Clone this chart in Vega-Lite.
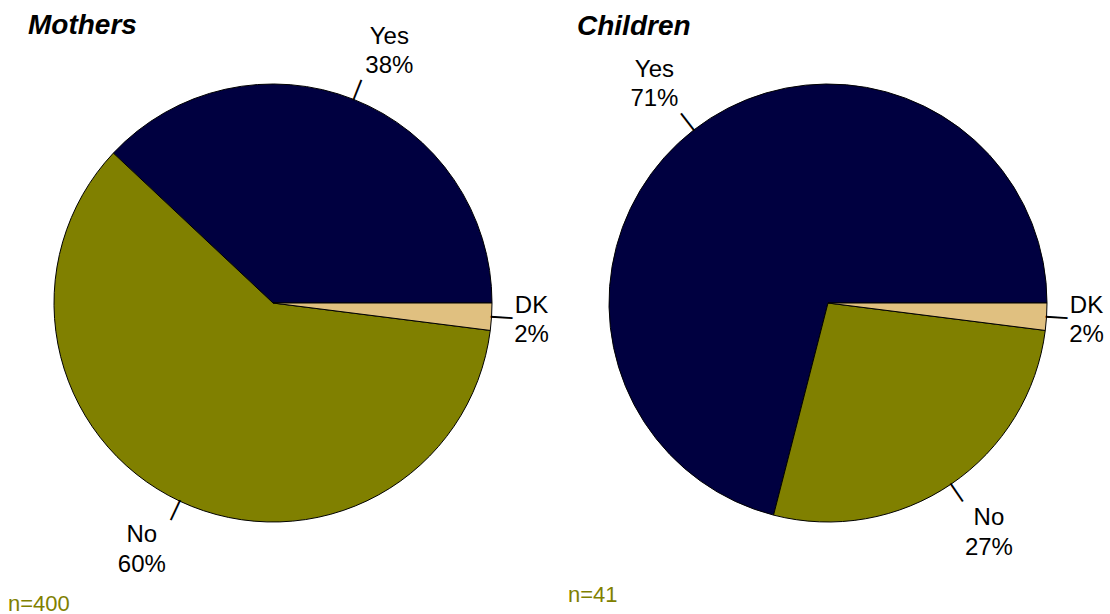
{
  "$schema": "https://vega.github.io/schema/vega-lite/v6.json",
  "padding": {"top": 11, "left": 0, "right": 0, "bottom": 0},
  "background": "white",
  "spacing": 6,
  "config": {
    "view": {"stroke": null},
    "text": {"font": "Liberation Sans"},
    "title": {"font": "Liberation Sans"}
  },
  "hconcat": [
    {
      "title": {"text": "n=400", "orient": "bottom", "anchor": "start", "frame": "group", "dx": 8, "offset": 17, "fontSize": 22, "fontWeight": "normal", "color": "#808000"},
      "vconcat": [
        {
          "width": 546,
          "height": 520,
          "title": {"text": "Mothers", "anchor": "start", "frame": "group", "dx": 28, "offset": -15, "fontSize": 28, "fontWeight": "bold", "fontStyle": "italic", "color": "black"},
          "data": {"values": [
            {"answer": "Yes", "v": 38, "rank": 1, "label": "Yes\n38%"},
            {"answer": "No", "v": 60, "rank": 2, "label": "No\n60%"},
            {"answer": "DK", "v": 2, "rank": 3, "label": "DK\n2%"}
          ]},
          "layer": [
            {
              "mark": {"type": "arc", "radius": 219, "stroke": "black", "strokeWidth": 1},
              "encoding": {
                "theta": {"field": "v", "type": "quantitative", "stack": true, "scale": {"range": [1.5707963, -4.712389]}},
                "color": {"field": "answer", "type": "nominal", "scale": {"domain": ["Yes", "No", "DK"], "range": ["#000040", "#808000", "#E0C080"]}, "legend": null},
                "order": {"field": "rank", "type": "quantitative"}
              }
            },
            {
              "mark": {"type": "text", "text": "|", "fontSize": 23.5, "radius": 230, "align": "center", "baseline": "middle", "color": "black"},
              "encoding": {
                "theta": {"field": "v", "type": "quantitative", "stack": true},
                "order": {"field": "rank", "type": "quantitative"},
                "angle": {"condition": [{"test": "datum.answer === 'Yes'", "value": 21.6}, {"test": "datum.answer === 'No'", "value": 205.2}], "value": 93.6}
              }
            },
            {
              "mark": {"type": "text", "fontSize": 24, "radius": 240, "align": "center", "baseline": "bottom", "lineBreak": "\n", "lineHeight": 29.5, "dx": 28, "dy": -31, "color": "black"},
              "encoding": {
                "theta": {"field": "v", "type": "quantitative", "stack": true},
                "order": {"field": "rank", "type": "quantitative"},
                "text": {"condition": {"test": "datum.answer === 'Yes'", "field": "label", "type": "nominal"}, "value": ""}
              }
            },
            {
              "mark": {"type": "text", "fontSize": 24, "radius": 240, "align": "center", "baseline": "top", "lineBreak": "\n", "lineHeight": 29.5, "dx": -29, "dy": 3, "color": "black"},
              "encoding": {
                "theta": {"field": "v", "type": "quantitative", "stack": true},
                "order": {"field": "rank", "type": "quantitative"},
                "text": {"condition": {"test": "datum.answer === 'No'", "field": "label", "type": "nominal"}, "value": ""}
              }
            },
            {
              "mark": {"type": "text", "fontSize": 24, "radius": 240, "align": "center", "baseline": "middle", "lineBreak": "\n", "lineHeight": 29.5, "dx": 19, "dy": -12.5, "color": "black"},
              "encoding": {
                "theta": {"field": "v", "type": "quantitative", "stack": true},
                "order": {"field": "rank", "type": "quantitative"},
                "text": {"condition": {"test": "datum.answer === 'DK'", "field": "label", "type": "nominal"}, "value": ""}
              }
            }
          ]
        }
      ]
    },
    {
      "title": {"text": "n=41", "orient": "bottom", "anchor": "start", "frame": "group", "dx": 13, "offset": 22, "fontSize": 22, "fontWeight": "normal", "color": "#808000"},
      "vconcat": [
        {
          "width": 546,
          "height": 520,
          "title": {"text": "Children", "anchor": "start", "frame": "group", "dx": 22, "offset": 2, "fontSize": 28, "fontWeight": "bold", "fontStyle": "italic", "color": "black"},
          "data": {"values": [
            {"answer": "Yes", "v": 71, "rank": 1, "label": "Yes\n71%"},
            {"answer": "No", "v": 27, "rank": 2, "label": "No\n27%"},
            {"answer": "DK", "v": 2, "rank": 3, "label": "DK\n2%"}
          ]},
          "layer": [
            {
              "mark": {"type": "arc", "radius": 219, "stroke": "black", "strokeWidth": 1},
              "encoding": {
                "theta": {"field": "v", "type": "quantitative", "stack": true, "scale": {"range": [1.5707963, -4.712389]}},
                "color": {"field": "answer", "type": "nominal", "scale": {"domain": ["Yes", "No", "DK"], "range": ["#000040", "#808000", "#E0C080"]}, "legend": null},
                "order": {"field": "rank", "type": "quantitative"}
              }
            },
            {
              "mark": {"type": "text", "text": "|", "fontSize": 23.5, "radius": 230, "align": "center", "baseline": "middle", "color": "black"},
              "encoding": {
                "theta": {"field": "v", "type": "quantitative", "stack": true},
                "order": {"field": "rank", "type": "quantitative"},
                "angle": {"condition": [{"test": "datum.answer === 'Yes'", "value": 322.2}, {"test": "datum.answer === 'No'", "value": 145.8}], "value": 93.6}
              }
            },
            {
              "mark": {"type": "text", "fontSize": 24, "radius": 240, "align": "center", "baseline": "bottom", "lineBreak": "\n", "lineHeight": 29.5, "dx": -26.5, "dy": -31.5, "color": "black"},
              "encoding": {
                "theta": {"field": "v", "type": "quantitative", "stack": true},
                "order": {"field": "rank", "type": "quantitative"},
                "text": {"condition": {"test": "datum.answer === 'Yes'", "field": "label", "type": "nominal"}, "value": ""}
              }
            },
            {
              "mark": {"type": "text", "fontSize": 24, "radius": 240, "align": "center", "baseline": "top", "lineBreak": "\n", "lineHeight": 29.5, "dx": 26, "dy": 5, "color": "black"},
              "encoding": {
                "theta": {"field": "v", "type": "quantitative", "stack": true},
                "order": {"field": "rank", "type": "quantitative"},
                "text": {"condition": {"test": "datum.answer === 'No'", "field": "label", "type": "nominal"}, "value": ""}
              }
            },
            {
              "mark": {"type": "text", "fontSize": 24, "radius": 240, "align": "center", "baseline": "middle", "lineBreak": "\n", "lineHeight": 29.5, "dx": 19, "dy": -12.5, "color": "black"},
              "encoding": {
                "theta": {"field": "v", "type": "quantitative", "stack": true},
                "order": {"field": "rank", "type": "quantitative"},
                "text": {"condition": {"test": "datum.answer === 'DK'", "field": "label", "type": "nominal"}, "value": ""}
              }
            }
          ]
        }
      ]
    }
  ]
}
